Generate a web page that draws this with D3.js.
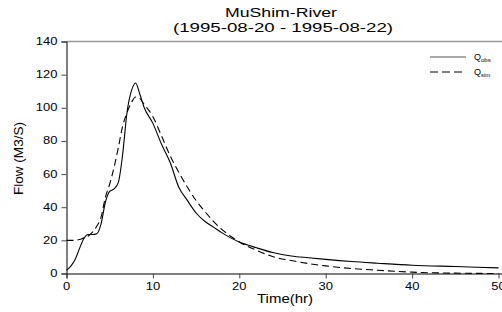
<!DOCTYPE html>
<html>
<head>
<meta charset="utf-8">
<script src="https://cdn.jsdelivr.net/npm/d3@7"></script>
<style>
  body { margin: 0; background: #fff; }
  text { font-family: "Liberation Sans", Arial, sans-serif; fill: #000; }
</style>
</head>
<body>
<div id="chart"></div>
<script>
// hydrograph values
var time = [0, 0.5, 1, 1.5, 2, 2.5, 3, 3.5, 4, 4.5, 5, 5.5, 6, 6.5, 7, 7.5, 8, 8.5, 9, 10,
            11, 12, 13, 14, 15, 16, 17, 18, 19, 20, 22, 24, 26, 28, 30, 33, 36, 40, 45, 50];
var qObs = [2, 4.5, 8.5, 15, 21, 23.5, 23.5, 24, 30, 43, 49.5, 51, 55, 72, 97, 110, 115, 108, 100, 90.6,
            78, 67, 52, 44, 36.5, 31.5, 28, 24.5, 21.5, 19, 15.5, 12.5, 10.6, 9.5, 8.5, 7.2, 6.2, 5, 4.2, 3.4];
var qSim = [20, 20, 20, 20.5, 21.5, 22.5, 25, 28.5, 34, 46, 54, 64, 76, 89, 97, 103, 106.5, 105.5, 102, 94.6,
            83, 71, 61, 52, 44, 37.5, 31.5, 26.5, 22.5, 19, 14, 10, 7.8, 6, 4.6, 3, 2, 0.8, 0.2, 0];
var xTicks = [0, 10, 20, 30, 40, 50];
var yTicks = [0, 20, 40, 60, 80, 100, 120, 140];
var titleLines = ["MuShim-River", "(1995-08-20 - 1995-08-22)"];
var legendNames = [["Q", "obs"], ["Q", "sim"]];

var width = 502, height = 312;
var svg = d3.select("#chart").append("svg")
    .attr("width", width)
    .attr("height", height);

var x = d3.scaleLinear().domain([0, 50.4]).range([66.5, 502]);
var y = d3.scaleLinear().domain([0, 140]).range([273.5, 41.5]);

// top frame line (grey)
svg.append("line")
    .attr("x1", x(0)).attr("x2", width)
    .attr("y1", y(140)).attr("y2", y(140))
    .style("stroke", "#999").style("stroke-width", 1.5);

// axes, labels drawn separately so they can be stretched like the original
var yAxis = svg.append("g")
    .attr("transform", "translate(" + x(0) + ",0)")
    .call(d3.axisLeft(y).tickValues(yTicks).tickSize(5).tickFormat(""));
var xAxis = svg.append("g")
    .attr("transform", "translate(0," + y(0) + ")")
    .call(d3.axisBottom(x).tickValues(xTicks).tickSize(5).tickFormat(""));
[yAxis, xAxis].forEach(function (g) {
    g.select(".domain").style("stroke", "#000");
    g.selectAll(".tick line").style("stroke", "#444");
});

yTicks.forEach(function (v) {
    svg.append("text")
        .attr("transform", "translate(" + (x(0) - 9) + "," + (y(v) + 3.5) + ") scale(1.3,1)")
        .attr("text-anchor", "end")
        .style("font-size", "10px")
        .text(v);
});
xTicks.forEach(function (v) {
    svg.append("text")
        .attr("transform", "translate(" + x(v) + "," + (y(0) + 16) + ") scale(1.3,1)")
        .attr("text-anchor", "middle")
        .style("font-size", "10px")
        .text(v);
});

// titles
svg.append("text")
    .attr("x", 281).attr("y", 17)
    .attr("text-anchor", "middle")
    .attr("textLength", 112).attr("lengthAdjust", "spacingAndGlyphs")
    .style("font-size", "12px")
    .text(titleLines[0]);
svg.append("text")
    .attr("x", 283).attr("y", 31.5)
    .attr("text-anchor", "middle")
    .attr("textLength", 220).attr("lengthAdjust", "spacingAndGlyphs")
    .style("font-size", "12px")
    .text(titleLines[1]);

svg.append("text")
    .attr("x", 285).attr("y", 303)
    .attr("text-anchor", "middle")
    .attr("textLength", 56).attr("lengthAdjust", "spacingAndGlyphs")
    .style("font-size", "12px")
    .text("Time(hr)");

svg.append("text")
    .attr("transform", "translate(23,158.5) rotate(-90)")
    .attr("text-anchor", "middle")
    .attr("textLength", 73).attr("lengthAdjust", "spacingAndGlyphs")
    .style("font-size", "12px")
    .text("Flow (M3/S)");

// curves
var line = d3.line()
    .x(function (d) { return x(d[0]); })
    .y(function (d) { return y(d[1]); })
    .curve(d3.curveMonotoneX);

svg.append("path")
    .datum(d3.zip(time, qSim))
    .attr("d", line)
    .style("fill", "none").style("stroke", "#000")
    .style("stroke-width", 1.1).style("stroke-dasharray", "7,4");

svg.append("path")
    .datum(d3.zip(time, qObs))
    .attr("d", line)
    .style("fill", "none").style("stroke", "#000")
    .style("stroke-width", 1.1);

// legend
var legendY = [57, 72];
legendNames.forEach(function (n, i) {
    svg.append("line")
        .attr("x1", 430).attr("x2", 466)
        .attr("y1", legendY[i]).attr("y2", legendY[i])
        .style("stroke", i == 0 ? "#555" : "#000")
        .style("stroke-width", 1.1)
        .style("stroke-dasharray", i == 0 ? null : "8,4");
    var t = svg.append("text")
        .attr("x", 474).attr("y", legendY[i] + 2.5)
        .style("font-size", "9px");
    t.append("tspan").text(n[0]);
    t.append("tspan").attr("dy", 2).style("font-size", "6px").text(n[1]);
});
</script>
</body>
</html>
